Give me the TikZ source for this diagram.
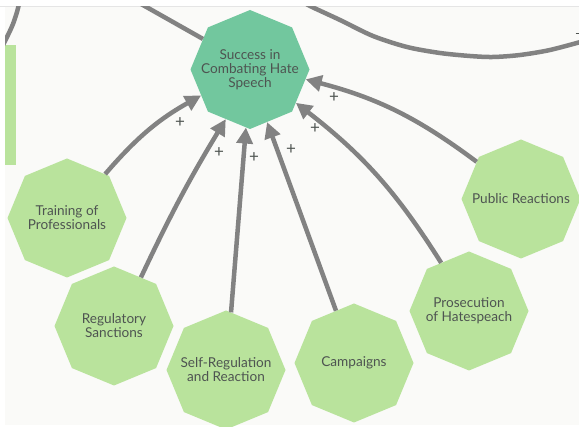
\documentclass[tikz,border=0pt]{standalone}
\usepackage{fontspec}
\setmainfont{Lato}
\usetikzlibrary{shapes.geometric,arrows.meta}
\definecolor{bgc}{HTML}{FAFAF8}
\definecolor{lgreen}{HTML}{B9E39C}
\definecolor{dgreen}{HTML}{72C79E}
\definecolor{arrc}{HTML}{828282}
\definecolor{txtc}{HTML}{4E5451}
\tikzset{
  oct/.style={regular polygon, regular polygon sides=8, shape border rotate=22.5,
    minimum size=119pt, inner sep=0pt, fill=lgreen, draw=none},
  octc/.style={oct, fill=dgreen},
  lbl/.style={align=center, text=txtc, font=\fontsize{13.6}{14}\selectfont, inner sep=0pt},
  arr/.style={draw=arrc, line width=4.5pt, -{Triangle[length=16pt,width=16pt]}},
  lin/.style={draw=arrc, line width=4.5pt},
  plus/.style={text=txtc, font=\fontsize{17}{17}\selectfont, inner sep=0pt}
}
\begin{document}
\begin{tikzpicture}[x=1pt,y=-1pt]
\useasboundingbox (0,0) rectangle (579,427);
\fill[white] (0,0) rectangle (579,427);
\fill[bgc] (5,6) rectangle (579,425);
\draw[black!10, line width=0.6pt] (0,6) -- (579,6);
% left bar
\fill[lgreen] (5,45) rectangle (16,165);
% nodes
\node[octc] (c) at (250,69.5) {};
\node[lbl] (ct) at (c) {Success in\\Combating Hate\\Speech};
\node[oct] (tr) at (67,218) {};
\node[lbl] (trt) at (tr) {Training of\\Professionals};
\node[oct] (rs) at (114,326) {};
\node[lbl] (rst) at (rs) {Regulatory\\Sanctions};
\node[oct] (sr) at (226,370) {};
\node[lbl] (srt) at (sr) {Self-Regulation\\and Reaction};
\node[oct] (ca) at (354,363) {};
\node[lbl] (cat) at (ca) {Campaigns};
\node[oct] (pr) at (469,311) {};
\node[lbl] (prt) at (pr) {Prosecution\\of Hatespeach};
\node[oct] (pu) at (521,199) {};
\node[lbl] (put) at (pu) {Public Reactions};
% top connectors from outside
\begin{scope}
\clip (5,6.3) rectangle (579,425);
\coordinate (t1) at (134,0);
\draw[lin] (t1) -- (c.147);
\draw[lin] plot[smooth] coordinates {(302,1) (310,6) (340,20) (373,36) (407,47) (440,53) (470,56) (493,57) (520,55) (550,50) (584,41)};
\draw[lin] plot[smooth] coordinates {(20,0) (17,12) (13,24) (8,35) (2,47)};
\draw[txtc, line width=1pt] (575.5,34) -- (579,34);
\end{scope}
% arrows
\draw[arr] (tr.49) to[bend left=10] (c.208);
\draw[arr] (rs.61) to[bend left=3] (c.244);
\draw[arr] (sr.85) -- (c.266);
\draw[arr] (ca.109) -- (c.288);
\draw[arr] (pr.120) to[bend right=10] (c.324);
\draw[arr] (pu.140) to[bend right=11] (c.350);
% plus labels
\node[plus] (p1) at (180,123) {+};
\node[plus] (p2) at (219,153) {+};
\node[plus] (p3) at (254,158) {+};
\node[plus] (p4) at (291,150) {+};
\node[plus] (p5) at (315,129) {+};
\node[plus] (p6) at (334,98) {+};
\end{tikzpicture}
\end{document}
